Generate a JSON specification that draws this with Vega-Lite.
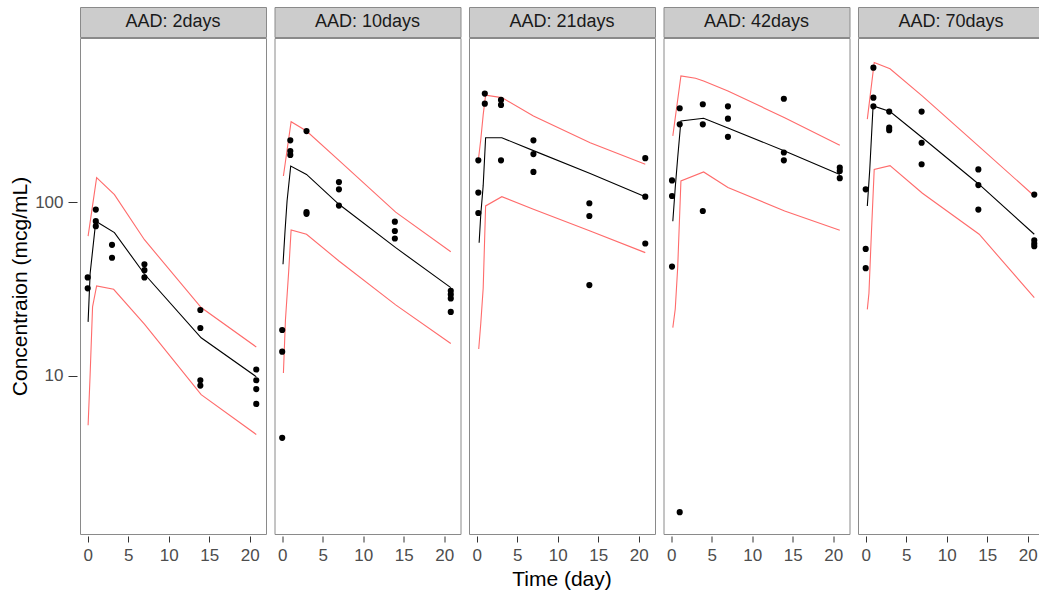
{
  "$schema": "https://vega.github.io/schema/vega-lite/v6.json",
  "padding": {"left": 9, "top": 6, "right": 0, "bottom": 0},
  "background": "white",
  "spacing": -2,
  "config": {
    "view": {"stroke": "#8A8A8A", "strokeWidth": 1},
    "font": "Liberation Sans"
  },
  "datasets": {
    "strips": [
      {"p": "AAD: 2days"}, {"p": "AAD: 10days"}, {"p": "AAD: 21days"}, {"p": "AAD: 42days"}, {"p": "AAD: 70days"}
    ],
    "rows": [
      {"p": "AAD: 2days", "s": "obs", "t": 0, "c": 37},
      {"p": "AAD: 2days", "s": "obs", "t": 0, "c": 32},
      {"p": "AAD: 2days", "s": "obs", "t": 1, "c": 91},
      {"p": "AAD: 2days", "s": "obs", "t": 1, "c": 78},
      {"p": "AAD: 2days", "s": "obs", "t": 1, "c": 73},
      {"p": "AAD: 2days", "s": "obs", "t": 3, "c": 57},
      {"p": "AAD: 2days", "s": "obs", "t": 3, "c": 48},
      {"p": "AAD: 2days", "s": "obs", "t": 7, "c": 44},
      {"p": "AAD: 2days", "s": "obs", "t": 7, "c": 40.7},
      {"p": "AAD: 2days", "s": "obs", "t": 7, "c": 37},
      {"p": "AAD: 2days", "s": "obs", "t": 13.9, "c": 24},
      {"p": "AAD: 2days", "s": "obs", "t": 13.9, "c": 18.9},
      {"p": "AAD: 2days", "s": "obs", "t": 13.9, "c": 9.45},
      {"p": "AAD: 2days", "s": "obs", "t": 13.9, "c": 8.8},
      {"p": "AAD: 2days", "s": "obs", "t": 20.8, "c": 10.9},
      {"p": "AAD: 2days", "s": "obs", "t": 20.8, "c": 9.45},
      {"p": "AAD: 2days", "s": "obs", "t": 20.8, "c": 8.4},
      {"p": "AAD: 2days", "s": "obs", "t": 20.8, "c": 6.9},

      {"p": "AAD: 10days", "s": "obs", "t": 0, "c": 18.4},
      {"p": "AAD: 10days", "s": "obs", "t": 0, "c": 13.8},
      {"p": "AAD: 10days", "s": "obs", "t": 0, "c": 4.4},
      {"p": "AAD: 10days", "s": "obs", "t": 1, "c": 228},
      {"p": "AAD: 10days", "s": "obs", "t": 1, "c": 198},
      {"p": "AAD: 10days", "s": "obs", "t": 1, "c": 188},
      {"p": "AAD: 10days", "s": "obs", "t": 3, "c": 258},
      {"p": "AAD: 10days", "s": "obs", "t": 3, "c": 88},
      {"p": "AAD: 10days", "s": "obs", "t": 3, "c": 86},
      {"p": "AAD: 10days", "s": "obs", "t": 7, "c": 131},
      {"p": "AAD: 10days", "s": "obs", "t": 7, "c": 119},
      {"p": "AAD: 10days", "s": "obs", "t": 7, "c": 96},
      {"p": "AAD: 10days", "s": "obs", "t": 13.9, "c": 77.5},
      {"p": "AAD: 10days", "s": "obs", "t": 13.9, "c": 68.5},
      {"p": "AAD: 10days", "s": "obs", "t": 13.9, "c": 62},
      {"p": "AAD: 10days", "s": "obs", "t": 20.8, "c": 31},
      {"p": "AAD: 10days", "s": "obs", "t": 20.8, "c": 29.5},
      {"p": "AAD: 10days", "s": "obs", "t": 20.8, "c": 28},
      {"p": "AAD: 10days", "s": "obs", "t": 20.8, "c": 23.4},

      {"p": "AAD: 21days", "s": "obs", "t": 0.2, "c": 175},
      {"p": "AAD: 21days", "s": "obs", "t": 0.2, "c": 114},
      {"p": "AAD: 21days", "s": "obs", "t": 0.2, "c": 87},
      {"p": "AAD: 21days", "s": "obs", "t": 1, "c": 424},
      {"p": "AAD: 21days", "s": "obs", "t": 1, "c": 371},
      {"p": "AAD: 21days", "s": "obs", "t": 3, "c": 390},
      {"p": "AAD: 21days", "s": "obs", "t": 3, "c": 365},
      {"p": "AAD: 21days", "s": "obs", "t": 3, "c": 175},
      {"p": "AAD: 21days", "s": "obs", "t": 7, "c": 228},
      {"p": "AAD: 21days", "s": "obs", "t": 7, "c": 190},
      {"p": "AAD: 21days", "s": "obs", "t": 7, "c": 150},
      {"p": "AAD: 21days", "s": "obs", "t": 13.9, "c": 99},
      {"p": "AAD: 21days", "s": "obs", "t": 13.9, "c": 83.6},
      {"p": "AAD: 21days", "s": "obs", "t": 13.9, "c": 33.4},
      {"p": "AAD: 21days", "s": "obs", "t": 20.8, "c": 180},
      {"p": "AAD: 21days", "s": "obs", "t": 20.8, "c": 108},
      {"p": "AAD: 21days", "s": "obs", "t": 20.8, "c": 58},

      {"p": "AAD: 42days", "s": "obs", "t": 0.1, "c": 134},
      {"p": "AAD: 42days", "s": "obs", "t": 0.1, "c": 109},
      {"p": "AAD: 42days", "s": "obs", "t": 0.1, "c": 42.7},
      {"p": "AAD: 42days", "s": "obs", "t": 1.05, "c": 349},
      {"p": "AAD: 42days", "s": "obs", "t": 1.05, "c": 282},
      {"p": "AAD: 42days", "s": "obs", "t": 1.05, "c": 1.64},
      {"p": "AAD: 42days", "s": "obs", "t": 3.9, "c": 368},
      {"p": "AAD: 42days", "s": "obs", "t": 3.9, "c": 282},
      {"p": "AAD: 42days", "s": "obs", "t": 3.9, "c": 89.3},
      {"p": "AAD: 42days", "s": "obs", "t": 7, "c": 358},
      {"p": "AAD: 42days", "s": "obs", "t": 7, "c": 304},
      {"p": "AAD: 42days", "s": "obs", "t": 7, "c": 239},
      {"p": "AAD: 42days", "s": "obs", "t": 13.9, "c": 396},
      {"p": "AAD: 42days", "s": "obs", "t": 13.9, "c": 194},
      {"p": "AAD: 42days", "s": "obs", "t": 13.9, "c": 175},
      {"p": "AAD: 42days", "s": "obs", "t": 20.8, "c": 159},
      {"p": "AAD: 42days", "s": "obs", "t": 20.8, "c": 152},
      {"p": "AAD: 42days", "s": "obs", "t": 20.8, "c": 138},

      {"p": "AAD: 70days", "s": "obs", "t": 0, "c": 119},
      {"p": "AAD: 70days", "s": "obs", "t": 0, "c": 54},
      {"p": "AAD: 70days", "s": "obs", "t": 0, "c": 41.8},
      {"p": "AAD: 70days", "s": "obs", "t": 0.95, "c": 598},
      {"p": "AAD: 70days", "s": "obs", "t": 0.95, "c": 402},
      {"p": "AAD: 70days", "s": "obs", "t": 0.95, "c": 358},
      {"p": "AAD: 70days", "s": "obs", "t": 2.9, "c": 334},
      {"p": "AAD: 70days", "s": "obs", "t": 2.9, "c": 270},
      {"p": "AAD: 70days", "s": "obs", "t": 2.9, "c": 261},
      {"p": "AAD: 70days", "s": "obs", "t": 6.9, "c": 334},
      {"p": "AAD: 70days", "s": "obs", "t": 6.9, "c": 221},
      {"p": "AAD: 70days", "s": "obs", "t": 6.9, "c": 166},
      {"p": "AAD: 70days", "s": "obs", "t": 13.9, "c": 155},
      {"p": "AAD: 70days", "s": "obs", "t": 13.9, "c": 126},
      {"p": "AAD: 70days", "s": "obs", "t": 13.9, "c": 91},
      {"p": "AAD: 70days", "s": "obs", "t": 20.8, "c": 111},
      {"p": "AAD: 70days", "s": "obs", "t": 20.8, "c": 60.5},
      {"p": "AAD: 70days", "s": "obs", "t": 20.8, "c": 58},
      {"p": "AAD: 70days", "s": "obs", "t": 20.8, "c": 56},

      {"p": "AAD: 2days", "s": "median", "t": 0.05, "c": 20.5},
      {"p": "AAD: 2days", "s": "median", "t": 0.3, "c": 39},
      {"p": "AAD: 2days", "s": "median", "t": 1, "c": 78},
      {"p": "AAD: 2days", "s": "median", "t": 3.3, "c": 67},
      {"p": "AAD: 2days", "s": "median", "t": 7, "c": 38.7},
      {"p": "AAD: 2days", "s": "median", "t": 14, "c": 16.6},
      {"p": "AAD: 2days", "s": "median", "t": 20.8, "c": 9.9},
      {"p": "AAD: 2days", "s": "p95", "t": 0.05, "c": 64},
      {"p": "AAD: 2days", "s": "p95", "t": 1.1, "c": 139},
      {"p": "AAD: 2days", "s": "p95", "t": 3.3, "c": 111},
      {"p": "AAD: 2days", "s": "p95", "t": 7, "c": 61},
      {"p": "AAD: 2days", "s": "p95", "t": 14, "c": 24.8},
      {"p": "AAD: 2days", "s": "p95", "t": 20.8, "c": 14.7},
      {"p": "AAD: 2days", "s": "p05", "t": 0.05, "c": 5.2},
      {"p": "AAD: 2days", "s": "p05", "t": 0.3, "c": 10.2},
      {"p": "AAD: 2days", "s": "p05", "t": 0.6, "c": 25},
      {"p": "AAD: 2days", "s": "p05", "t": 1.1, "c": 33},
      {"p": "AAD: 2days", "s": "p05", "t": 3.2, "c": 31.6},
      {"p": "AAD: 2days", "s": "p05", "t": 7, "c": 19.9},
      {"p": "AAD: 2days", "s": "p05", "t": 14, "c": 7.8},
      {"p": "AAD: 2days", "s": "p05", "t": 20.8, "c": 4.6},

      {"p": "AAD: 10days", "s": "median", "t": 0.1, "c": 44},
      {"p": "AAD: 10days", "s": "median", "t": 0.35, "c": 68.5},
      {"p": "AAD: 10days", "s": "median", "t": 0.6, "c": 102},
      {"p": "AAD: 10days", "s": "median", "t": 1.05, "c": 162},
      {"p": "AAD: 10days", "s": "median", "t": 3, "c": 145},
      {"p": "AAD: 10days", "s": "median", "t": 7, "c": 97.6},
      {"p": "AAD: 10days", "s": "median", "t": 14, "c": 54.9},
      {"p": "AAD: 10days", "s": "median", "t": 20.8, "c": 32.3},
      {"p": "AAD: 10days", "s": "p95", "t": 0.15, "c": 142},
      {"p": "AAD: 10days", "s": "p95", "t": 1.1, "c": 292},
      {"p": "AAD: 10days", "s": "p95", "t": 3, "c": 258},
      {"p": "AAD: 10days", "s": "p95", "t": 7, "c": 175},
      {"p": "AAD: 10days", "s": "p95", "t": 14, "c": 88},
      {"p": "AAD: 10days", "s": "p95", "t": 20.8, "c": 52},
      {"p": "AAD: 10days", "s": "p05", "t": 0.15, "c": 10.4},
      {"p": "AAD: 10days", "s": "p05", "t": 0.4, "c": 21},
      {"p": "AAD: 10days", "s": "p05", "t": 0.8, "c": 40},
      {"p": "AAD: 10days", "s": "p05", "t": 1.1, "c": 69.5},
      {"p": "AAD: 10days", "s": "p05", "t": 3, "c": 65.6},
      {"p": "AAD: 10days", "s": "p05", "t": 7, "c": 46},
      {"p": "AAD: 10days", "s": "p05", "t": 14, "c": 25.7},
      {"p": "AAD: 10days", "s": "p05", "t": 20.8, "c": 15.4},

      {"p": "AAD: 21days", "s": "median", "t": 0.3, "c": 58.6},
      {"p": "AAD: 21days", "s": "median", "t": 0.5, "c": 85},
      {"p": "AAD: 21days", "s": "median", "t": 0.8, "c": 125},
      {"p": "AAD: 21days", "s": "median", "t": 1.1, "c": 236},
      {"p": "AAD: 21days", "s": "median", "t": 3.1, "c": 236},
      {"p": "AAD: 21days", "s": "median", "t": 7, "c": 199},
      {"p": "AAD: 21days", "s": "median", "t": 14, "c": 147},
      {"p": "AAD: 21days", "s": "median", "t": 20.8, "c": 108},
      {"p": "AAD: 21days", "s": "p95", "t": 0.2, "c": 175},
      {"p": "AAD: 21days", "s": "p95", "t": 0.5, "c": 230},
      {"p": "AAD: 21days", "s": "p95", "t": 0.8, "c": 320},
      {"p": "AAD: 21days", "s": "p95", "t": 1.1, "c": 415},
      {"p": "AAD: 21days", "s": "p95", "t": 3.1, "c": 402},
      {"p": "AAD: 21days", "s": "p95", "t": 7, "c": 315},
      {"p": "AAD: 21days", "s": "p95", "t": 14, "c": 221},
      {"p": "AAD: 21days", "s": "p95", "t": 20.8, "c": 166},
      {"p": "AAD: 21days", "s": "p05", "t": 0.25, "c": 14.3},
      {"p": "AAD: 21days", "s": "p05", "t": 0.5, "c": 20},
      {"p": "AAD: 21days", "s": "p05", "t": 0.8, "c": 32},
      {"p": "AAD: 21days", "s": "p05", "t": 1.1, "c": 95.5},
      {"p": "AAD: 21days", "s": "p05", "t": 3.1, "c": 108},
      {"p": "AAD: 21days", "s": "p05", "t": 7, "c": 91.4},
      {"p": "AAD: 21days", "s": "p05", "t": 14, "c": 68.5},
      {"p": "AAD: 21days", "s": "p05", "t": 20.8, "c": 51.4},

      {"p": "AAD: 42days", "s": "median", "t": 0.2, "c": 78},
      {"p": "AAD: 42days", "s": "median", "t": 0.5, "c": 122},
      {"p": "AAD: 42days", "s": "median", "t": 0.8, "c": 181},
      {"p": "AAD: 42days", "s": "median", "t": 1.2, "c": 295},
      {"p": "AAD: 42days", "s": "median", "t": 4, "c": 306},
      {"p": "AAD: 42days", "s": "median", "t": 7, "c": 269},
      {"p": "AAD: 42days", "s": "median", "t": 14, "c": 198},
      {"p": "AAD: 42days", "s": "median", "t": 20.8, "c": 145},
      {"p": "AAD: 42days", "s": "p95", "t": 0.2, "c": 242},
      {"p": "AAD: 42days", "s": "p95", "t": 1.2, "c": 536},
      {"p": "AAD: 42days", "s": "p95", "t": 3, "c": 520},
      {"p": "AAD: 42days", "s": "p95", "t": 4, "c": 501},
      {"p": "AAD: 42days", "s": "p95", "t": 7, "c": 439},
      {"p": "AAD: 42days", "s": "p95", "t": 14, "c": 308},
      {"p": "AAD: 42days", "s": "p95", "t": 20.8, "c": 214},
      {"p": "AAD: 42days", "s": "p05", "t": 0.2, "c": 19},
      {"p": "AAD: 42days", "s": "p05", "t": 0.5, "c": 24.3},
      {"p": "AAD: 42days", "s": "p05", "t": 0.8, "c": 42},
      {"p": "AAD: 42days", "s": "p05", "t": 1.2, "c": 133},
      {"p": "AAD: 42days", "s": "p05", "t": 4, "c": 150},
      {"p": "AAD: 42days", "s": "p05", "t": 7, "c": 122},
      {"p": "AAD: 42days", "s": "p05", "t": 14, "c": 89.3},
      {"p": "AAD: 42days", "s": "p05", "t": 20.8, "c": 69.2},

      {"p": "AAD: 70days", "s": "median", "t": 0.2, "c": 95.5},
      {"p": "AAD: 70days", "s": "median", "t": 0.5, "c": 155},
      {"p": "AAD: 70days", "s": "median", "t": 0.9, "c": 352},
      {"p": "AAD: 70days", "s": "median", "t": 1.1, "c": 358},
      {"p": "AAD: 70days", "s": "median", "t": 3, "c": 334},
      {"p": "AAD: 70days", "s": "median", "t": 7, "c": 236},
      {"p": "AAD: 70days", "s": "median", "t": 14, "c": 127},
      {"p": "AAD: 70days", "s": "median", "t": 20.8, "c": 65.6},
      {"p": "AAD: 70days", "s": "p95", "t": 0.2, "c": 302},
      {"p": "AAD: 70days", "s": "p95", "t": 1.05, "c": 640},
      {"p": "AAD: 70days", "s": "p95", "t": 3, "c": 590},
      {"p": "AAD: 70days", "s": "p95", "t": 7, "c": 410},
      {"p": "AAD: 70days", "s": "p95", "t": 14, "c": 210},
      {"p": "AAD: 70days", "s": "p95", "t": 20.8, "c": 109},
      {"p": "AAD: 70days", "s": "p05", "t": 0.2, "c": 24.2},
      {"p": "AAD: 70days", "s": "p05", "t": 0.4, "c": 30},
      {"p": "AAD: 70days", "s": "p05", "t": 0.7, "c": 66},
      {"p": "AAD: 70days", "s": "p05", "t": 1.05, "c": 155},
      {"p": "AAD: 70days", "s": "p05", "t": 3, "c": 163},
      {"p": "AAD: 70days", "s": "p05", "t": 7, "c": 113},
      {"p": "AAD: 70days", "s": "p05", "t": 14, "c": 65.6},
      {"p": "AAD: 70days", "s": "p05", "t": 20.8, "c": 28.3}
    ]
  },
  "vconcat": [
    {
      "data": {"name": "strips"},
      "facet": {
        "column": {
          "field": "p", "type": "nominal",
          "sort": ["AAD: 2days", "AAD: 10days", "AAD: 21days", "AAD: 42days", "AAD: 70days"],
          "title": null,
          "header": {"labels": false, "title": null}
        }
      },
      "spacing": 6.5,
      "spec": {
        "width": 186,
        "height": 30,
        "view": {"fill": "#CCCCCC", "stroke": "#8A8A8A"},
        "mark": {"type": "text", "fontSize": 18, "font": "Liberation Sans", "color": "#1A1A1A"},
        "encoding": {"text": {"field": "p", "type": "nominal"}}
      }
    },
    {
      "data": {"name": "rows"},
      "facet": {
        "column": {
          "field": "p", "type": "nominal",
          "sort": ["AAD: 2days", "AAD: 10days", "AAD: 21days", "AAD: 42days", "AAD: 70days"],
          "title": "Time (day)",
          "header": {
            "labels": false, "titleOrient": "bottom", "titleFontSize": 21, "titleFont": "Liberation Sans",
            "titleFontWeight": "normal", "titleColor": "#000000", "titlePadding": -4
          }
        }
      },
      "spacing": 6.5,
      "spec": {
        "width": 186,
        "height": 496,
        "view": {"fill": "white", "stroke": "#8A8A8A"},
        "encoding": {
          "x": {
            "field": "t", "type": "quantitative",
            "scale": {"domain": [-0.95, 22.0], "nice": false, "zero": false},
            "axis": {
              "title": null, "values": [0, 5, 10, 15, 20], "grid": false, "domain": false,
              "ticks": true, "tickColor": "#333333", "tickSize": 6, "offset": 1,
              "labelFontSize": 17, "labelColor": "#4D4D4D", "labelPadding": 5
            }
          },
          "y": {
            "field": "c", "type": "quantitative",
            "scale": {"type": "log", "domain": [1.228, 887], "nice": false},
            "axis": {
              "title": "Concentraion (mcg/mL)", "values": [10, 100], "format": "d", "grid": false, "domain": false,
              "ticks": true, "tickColor": "#333333", "tickSize": 9, "offset": 2,
              "labelFontSize": 17, "labelColor": "#4D4D4D", "labelPadding": 5,
              "titleFontSize": 21, "titleFontWeight": "normal", "titleColor": "#000000", "titlePadding": 4
            }
          }
        },
        "layer": [
          {
            "transform": [{"filter": "datum.s !== 'obs'"}],
            "mark": {"type": "line", "strokeWidth": 1.1},
            "encoding": {
              "color": {
                "field": "s", "type": "nominal",
                "scale": {"domain": ["median", "p05", "p95"], "range": ["#000000", "#FF6B6B", "#FF6B6B"]},
                "legend": null
              },
              "order": {"field": "t", "type": "quantitative"}
            }
          },
          {
            "transform": [{"filter": "datum.s === 'obs'"}],
            "mark": {"type": "point", "filled": true, "shape": "circle", "size": 38, "color": "#000000", "opacity": 1}
          }
        ]
      }
    }
  ]
}
